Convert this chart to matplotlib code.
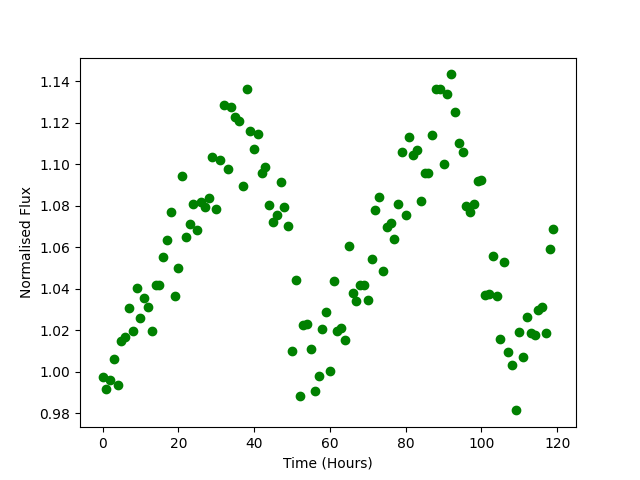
import matplotlib

matplotlib.use("Agg")
import matplotlib.pyplot as plt
import numpy as np

# hourly samples, t = 0 .. 119
TIME = np.arange(120)
FLUX = [
    0.9972, 0.9914, 0.9959, 1.0059, 0.9933, 1.0148, 1.0165, 1.0306, 1.0194, 1.0402,
    1.0258, 1.0357, 1.0309, 1.0194, 1.0415, 1.0415, 1.0553, 1.0632, 1.0767, 1.0362,
    1.0497, 1.0941, 1.0647, 1.0709, 1.0807, 1.0680, 1.0817, 1.0791, 1.0836, 1.1034,
    1.0782, 1.1018, 1.1283, 1.0976, 1.1273, 1.1225, 1.1206, 1.0894, 1.1360, 1.1160,
    1.1072, 1.1143, 1.0955, 1.0986, 1.0802, 1.0719, 1.0756, 1.0913, 1.0793, 1.0700,
    1.0097, 1.0439, 0.9880, 1.0224, 1.0229, 1.0107, 0.9906, 0.9977, 1.0203, 1.0285,
    1.0001, 1.0435, 1.0194, 1.0210, 1.0150, 1.0603, 1.0377, 1.0338, 1.0418, 1.0418,
    1.0343, 1.0541, 1.0777, 1.0839, 1.0483, 1.0696, 1.0717, 1.0637, 1.0807, 1.1056,
    1.0754, 1.1129, 1.1045, 1.1066, 1.0820, 1.0955, 1.0955, 1.1138, 1.1360, 1.1360,
    1.0998, 1.1336, 1.1432, 1.1249, 1.1100, 1.1056, 1.0796, 1.0770, 1.0807, 1.0917,
    1.0921, 1.0367, 1.0372, 1.0555, 1.0362, 1.0155, 1.0526, 1.0092, 1.0030, 0.9813,
    1.0189, 1.0068, 1.0261, 1.0184, 1.0174, 1.0295, 1.0309, 1.0184, 1.0589, 1.0685,
]

fig, ax = plt.subplots(figsize=(6.4, 4.8), dpi=100)
ax.plot(TIME, FLUX, "o", color="green")
ax.set_xlabel("Time (Hours)")
ax.set_ylabel("Normalised Flux")
fig.savefig("out.png", dpi=100)
